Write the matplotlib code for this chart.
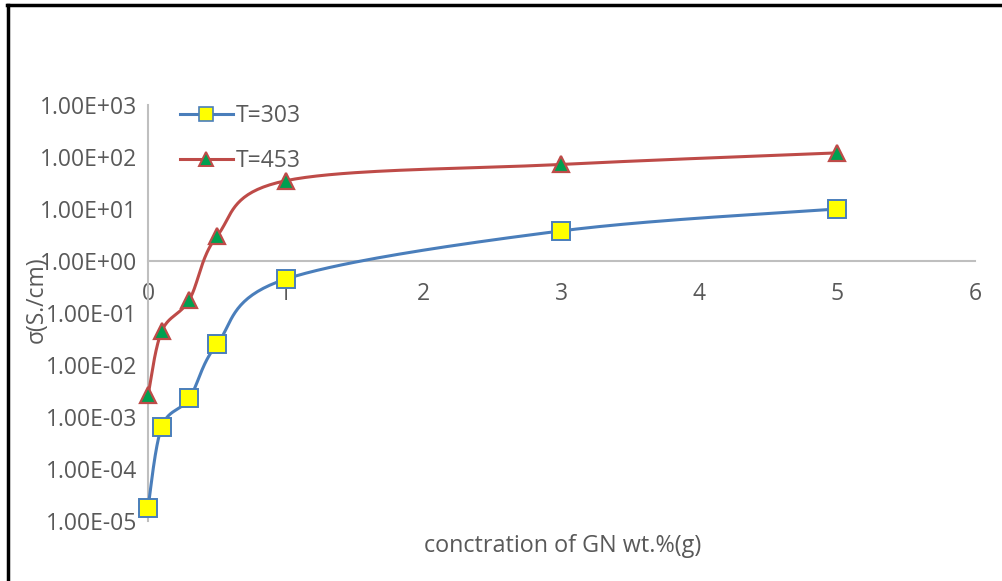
import numpy as np
import matplotlib
matplotlib.use("Agg")
import matplotlib.pyplot as plt
from matplotlib.lines import Line2D

conc = [0, 0.1, 0.3, 0.5, 1, 3, 5]
sigma_303 = [1.8e-5, 6.5e-4, 2.3e-3, 2.5e-2, 0.45, 3.8, 10]
sigma_453 = [2.6e-3, 4.5e-2, 0.18, 3.0, 35, 72, 120]
series_names = ["T=303", "T=453"]
x_ticks = [0, 1, 2, 3, 4, 5, 6]
y_ticks = [1e-5, 1e-4, 1e-3, 1e-2, 1e-1, 1, 1e1, 1e2, 1e3]

W, H = 1003, 581
fig = plt.figure(figsize=(W / 100, H / 100), dpi=100)
fig.patch.set_facecolor("white")
plt.rcParams['font.family'] = ['Open Sans', 'DejaVu Sans']
gray = "#595959"
fs = 16.5

# frame lines (top and left only)
fig.add_artist(Line2D([8.5 / W, 8.5 / W], [0, 1 - 4.5 / H], color="black", lw=2.5, transform=fig.transFigure))
fig.add_artist(Line2D([7.5 / W, 1], [1 - 5 / H, 1 - 5 / H], color="black", lw=2.5, transform=fig.transFigure))

l, r, t, b = 148, 975, 105, 521
ax = fig.add_axes([l / W, 1 - b / H, (r - l) / W, (b - t) / H])
ax.set_yscale("log")
ax.set_xlim(0, 6)
ax.set_ylim(1e-5, 1e3)
for s in ["top", "right"]:
    ax.spines[s].set_visible(False)
ax.spines["left"].set_color("#BFBFBF")
ax.spines["left"].set_linewidth(1.5)
ax.spines["bottom"].set_color("#BFBFBF")
ax.spines["bottom"].set_linewidth(1.5)
ax.spines["bottom"].set_position(("data", 1))
ax.set_xticks(x_ticks)
ax.set_xticklabels([str(v) for v in x_ticks])
ax.set_yticks(y_ticks)
ax.set_yticklabels(["%.2E" % v for v in y_ticks])
ax.yaxis.set_minor_locator(matplotlib.ticker.NullLocator())
ax.tick_params(axis="both", length=0, labelsize=fs, colors=gray)
ax.tick_params(axis="x", pad=15)
ax.tick_params(axis="y", pad=8)


def smooth(xs, ys, n=40):
    pts = ax.transData.transform(np.column_stack([xs, ys]))
    P = np.vstack([pts[0], pts, pts[-1]])
    out = []
    for i in range(1, len(P) - 2):
        p0, p1, p2, p3 = P[i - 1], P[i], P[i + 1], P[i + 2]
        tt = np.linspace(0, 1, n)[:, None]
        c1 = p1 + (p2 - p0) / 6
        c2 = p2 - (p3 - p1) / 6
        seg = ((1 - tt) ** 3) * p1 + 3 * ((1 - tt) ** 2) * tt * c1 + 3 * (1 - tt) * tt ** 2 * c2 + tt ** 3 * p2
        out.append(seg)
    out = np.vstack(out)
    d = ax.transData.inverted().transform(out)
    return d[:, 0], d[:, 1]


blue, red = "#4A7EBB", "#BE4B48"
sx, sy = smooth(conc, sigma_303)
ax.plot(sx, sy, color=blue, lw=2.2, clip_on=False, zorder=3)
ax.plot(conc, sigma_303, ls="none", marker="s", ms=13.5, mfc="#FFFF00", mec=blue, mew=1.4, clip_on=False, zorder=4)
sx, sy = smooth(conc, sigma_453)
ax.plot(sx, sy, color=red, lw=2.2, clip_on=False, zorder=3)
ax.plot(conc, sigma_453, ls="none", marker="^", ms=12, mfc="#00A050", mec=red, mew=1.6, clip_on=False, zorder=4)

h1 = Line2D([], [], color=blue, lw=2.2, marker="s", ms=10, mfc="#FFFF00", mec=blue, mew=1.2)
h2 = Line2D([], [], color=red, lw=2.2, marker="^", ms=10, mfc="#00A050", mec=red, mew=1.4)
leg = ax.legend([h1, h2], series_names, loc="upper left", bbox_to_anchor=(32 / (r - l), (b - 104) / (b - t)),
                frameon=False, fontsize=fs, handlelength=2.3, handletextpad=0.15, labelspacing=0.9,
                borderpad=0, borderaxespad=0, numpoints=1)
for tx in leg.get_texts():
    tx.set_color(gray)

fig.text(37 / W, 1 - 300 / H, "σ(S./cm)", rotation=90, ha="center", va="center", fontsize=fs, color=gray)
fig.text(563 / W, 1 - 546 / H, "conctration of GN wt.%(g)", ha="center", va="center", fontsize=16.8, color=gray)

fig.savefig("out.png", dpi=100, facecolor="white")
